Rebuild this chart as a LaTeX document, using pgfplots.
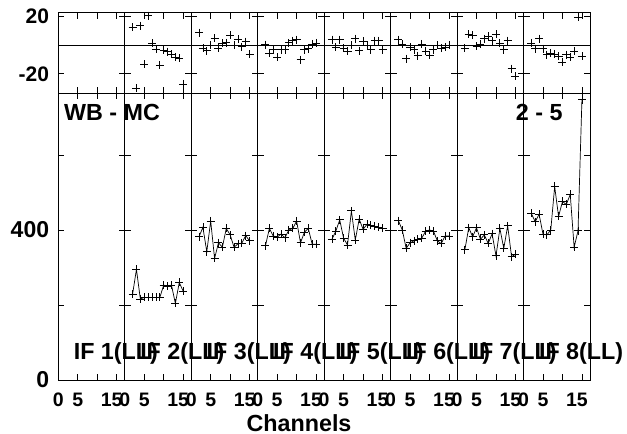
\documentclass[border=0pt]{standalone}
\usepackage{fontspec}
\setmainfont{Liberation Sans}
\usepackage{pgfplots}
\pgfplotsset{compat=1.18}
\usepackage{pgfplotstable}

\pgfplotstableread{
ch if2 if3 if4 if5 if6 if7 if8
2 228 382 358 375 425 347 444
3 295 407 404 397 400 406 422
4 216 342 384 427 351 382 442
5 220 424 381 378 366 406 389
6 220 324 389 360 371 375 387
7 220 366 379 451 375 387 400
8 220 354 400 373 378 364 516
9 220 404 404 429 397 390 436
10 253 387 424 402 400 331 476
11 250 354 366 415 397 404 468
12 253 363 394 412 371 351 495
13 204 365 404 410 364 411 354
14 260 385 362 407 384 329 398
15 237 371 362 404 384 335 747
}\maindata

\pgfplotstableread{
ch r2 r3 r4 r5 r6 r7 r8
2 12.3 8.6 0.2 3.7 3.7 -2.1 1.4
3 -30 -2.3 -5.6 -1.6 0.7 7.6 -2.5
4 13.4 -4 -3.2 3.7 -9.5 6.7 4.4
5 -13.4 0 -8.6 -2.1 -1.6 -0.9 -2.5
6 20.4 4.6 -3.2 -4.4 -3.2 0.7 -6.7
7 1.2 -2.3 -3.2 -0.2 -7.4 4.4 -5.6
8 -3 1.2 1.5 4.4 0.7 6 -6.2
9 -13.9 1.5 3 -3.9 -4.4 3 -7.9
10 -3.5 6.9 3.7 2.5 -7.2 7.6 -11.8
11 -4.6 0 -10.2 -0.2 -3.2 1.4 -6.7
12 -6.3 3.9 -3.2 -3.2 -0.2 -3.2 -8.6
13 -8.6 -1.2 -2.5 3 -2.1 3 -4.4
14 -9.3 2.3 0.7 3 -1.6 -16.4 19.2
15 -27 -6.5 1.4 -3.2 -0.2 -21.8 -7.9
}\resdata

\pgfplotsset{
  base/.style={scale only axis, width=66.46bp, xmin=0, xmax=17.07,
    anchor=south west, tick align=inside, xtick={0,5,10,15},
    major tick length=6bp,
    axis line style={line width=0.8bp, black},
    every tick/.append style={line width=0.8bp, black},
    clip=false,
    yticklabel style={anchor=east, inner sep=0pt, xshift=-9bp},
    xticklabel style={anchor=north, inner sep=0pt, yshift=-13bp,
      font=\fontsize{19.5bp}{22bp}\selectfont\bfseries},
  },
  toplabs/.code={\ifnum\i=0 \pgfkeysalso{yticklabels={-20,,20}}\else\pgfkeysalso{yticklabels={}}\fi},
  botlabs/.code={\ifnum\i=0 \pgfkeysalso{yticklabels={0,,400,}}\else\pgfkeysalso{yticklabels={}}\fi},
}

\begin{document}
\begin{tikzpicture}
\useasboundingbox (0,0) rectangle (627bp,434bp);
\foreach \i in {0,...,7}{
  \pgfmathsetmacro\xl{58.3+\i*66.46}
  \pgfmathtruncatemacro\j{\i+1}
  \begin{axis}[base, at={(\xl bp,340.7bp)}, height=80.6bp,
      ymin=-33.5, ymax=22.4, ytick={-20,0,20}, toplabs,
      xticklabels={},
      yticklabel style={font=\fontsize{21bp}{24bp}\selectfont\bfseries},
      extra y ticks={0}, extra y tick labels={},
      extra y tick style={ymajorgrids=true, major grid style={black, line width=0.8bp}}]
    \ifnum\i>0
      \addplot[black, only marks, mark=+, mark size=4bp, mark options={line width=0.8bp}] table[x=ch, y=r\j]{\resdata};
    \fi
  \end{axis}
  \begin{axis}[base, at={(\xl bp,54bp)}, height=286.7bp,
      ymin=0, ymax=764.5, ytick={0,200,400,600}, botlabs,
      xticklabels={0,5,,{\kern-5bp 15\kern5bp}},
      yticklabel style={font=\fontsize{23bp}{26bp}\selectfont\bfseries}]
    \ifnum\i>0
      \addplot[black, line width=0.7bp, mark=+, mark size=4bp, mark options={line width=0.8bp}] table[x=ch, y=if\j]{\maindata};
    \fi
  \end{axis}
}
\foreach \i in {0,...,7}{
  \pgfmathsetmacro\xt{58.3+\i*66.46+15.3}
  \pgfmathtruncatemacro\j{\i+1}
  \node[anchor=base west, inner sep=0pt, font=\fontsize{23.3bp}{26bp}\selectfont\bfseries] at (\xt bp, 74.7bp) {IF \j(LL)};
}
\node[anchor=base west, inner sep=0pt, font=\fontsize{23.3bp}{26bp}\selectfont\bfseries] at (64bp, 313.3bp) {WB - MC};
\node[anchor=base, inner sep=0pt, font=\fontsize{23.3bp}{26bp}\selectfont\bfseries] at (539.3bp, 313.3bp) {2 - 5};
\node[anchor=base, inner sep=0pt, font=\fontsize{23.3bp}{26bp}\selectfont\bfseries] at (299bp, 3bp) {Channels};
\end{tikzpicture}
\end{document}
